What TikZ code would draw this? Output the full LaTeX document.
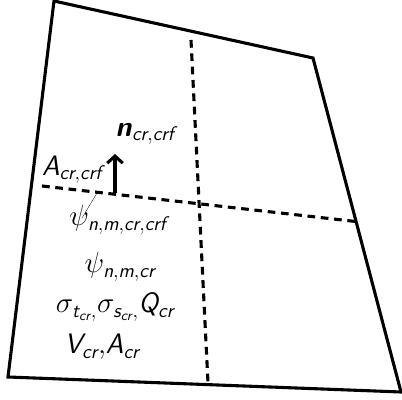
\documentclass[tikz,border=0pt]{standalone}
\usepackage{amsmath}
\usetikzlibrary{arrows.meta,calc}
\newcommand{\sfi}[1]{\textsf{\itshape #1}}
\tikzset{
  wall/.style={line width=2.2pt,line join=miter},
  cut/.style={line width=2.2pt,dash pattern=on 5.5pt off 4pt},
  lbl/.style={font=\fontsize{20}{24}\selectfont,inner sep=1pt}
}
\begin{document}
\begin{tikzpicture}[x=0.025cm,y=-0.025cm,>={Straight Barb[length=5pt,width=11pt]}]
  \useasboundingbox (0,0) rectangle (402,400);

  % cell outline
  \coordinate (tl) at (54,1);
  \coordinate (tr) at (313,58);
  \coordinate (br) at (401,392);
  \coordinate (bl) at (8,377);
  \draw[wall] (tl)--(tr)--(br)--(bl)--cycle;

  % cut faces
  \coordinate (vtop) at (191,40);
  \coordinate (vbot) at (208,383);
  \coordinate (hleft) at (42,186);
  \coordinate (hright) at (360,222);
  \draw[cut] (vtop)--(vbot);
  \draw[cut] (hleft)--(hright);

  % face normal and labels
  \node[lbl] (nrm) at (145,134) {$\textbf{\textsf{\itshape n}}_{\sfi{cr},\sfi{crf}}$};
  \node[lbl] (area) at (72,170) {$\sfi{A}_{\sfi{cr},\sfi{crf}}$};
  \coordinate (foot) at (115,193);
  \draw[->,line width=2.2pt] (foot)--(115,154);
  \node[lbl] (psif) at (118,220) {$\psi_{\sfi{n},\sfi{m},\sfi{cr},\sfi{crf}}$};
  \coordinate (lead) at (97,193);
  \draw[very thin] (lead)--(82,218);

  % cell quantities
  \node[lbl] (psic) at (120,267) {$\psi_{\sfi{n},\sfi{m},\sfi{cr}}$};
  \node[lbl] (sig) at (115,307) {$\sigma_{\sfi{t}_{\sfi{cr}},}\sigma_{\sfi{s}_{\sfi{cr}},}\sfi{Q}_{\sfi{cr}}$};
  \node[lbl] (vol) at (102,347) {$\sfi{V}_{\sfi{cr}},\!\sfi{A}_{\sfi{cr}}$};
\end{tikzpicture}
\end{document}
